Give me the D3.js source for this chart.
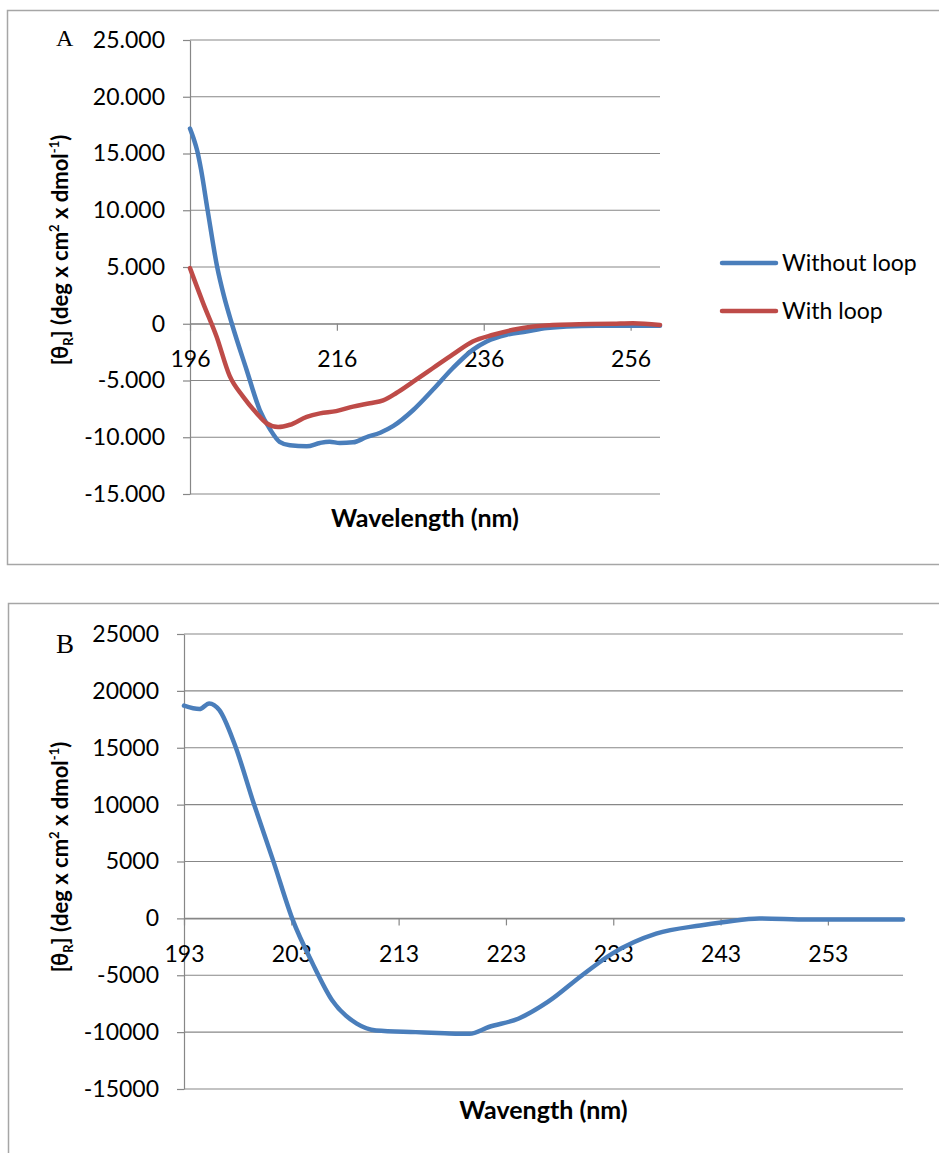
<!DOCTYPE html>
<html>
<head>
<meta charset="utf-8">
<script src="https://cdn.jsdelivr.net/npm/d3@7"></script>
<style>
  html, body { margin: 0; padding: 0; background: #fff; }
</style>
</head>
<body>
<div id="chart"></div>
<script>
// Panel A: sin bucle / con bucle (nm, valor)
const nmWithout = [196, 196.5, 197, 197.5, 198.4, 199.7, 200.6, 201.7, 203.7, 205.5, 206.9, 208.2, 209.6, 211.9, 213.7, 215, 216.4, 218.2, 220, 221.9, 223.7, 226.4, 229.1, 231.8, 234.5, 236.4, 239.1, 241.8, 244.6, 247.3, 251.4, 255.9, 260];
const valWithout = [17200, 16300, 15200, 13600, 10000, 5000, 2500, 0, -4050, -7600, -9300, -10400, -10700, -10800, -10500, -10400, -10500, -10450, -10000, -9600, -9000, -7600, -5800, -3900, -2300, -1560, -970, -680, -380, -240, -180, -180, -180];

const nmWith = [196, 197.8, 199.6, 201.4, 203.2, 205.1, 206.4, 208, 209.6, 211.9, 213.7, 215.9, 218.2, 220.5, 222.3, 224.1, 226.4, 229.1, 231.8, 234.5, 237.3, 240, 242.7, 245.4, 249, 253.6, 256.3, 260];
const valWith = [4900, 1800, -1100, -4600, -6400, -7900, -8750, -9100, -8900, -8200, -7900, -7700, -7300, -7000, -6750, -6100, -5100, -3900, -2700, -1560, -970, -530, -240, -100, -50, 0, 50, -100];

// Panel B
const nmB = [193, 194.45, 195.35, 196.3, 197.7, 199.5, 201.3, 203.15, 205, 206.8, 209.1, 210.9, 214.6, 217.3, 219.6, 221.4, 224.2, 226.9, 230.1, 232.9, 237, 241.1, 243.4, 246.6, 251.2, 255.8, 260];
const valB = [18700, 18400, 18900, 18300, 15350, 10100, 5100, -180, -4000, -7200, -9250, -9850, -10000, -10100, -10150, -9550, -8800, -7350, -5000, -3100, -1350, -620, -320, 0, -90, -90, -90];

const yTicks = [-15000, -10000, -5000, 0, 5000, 10000, 15000, 20000, 25000];
const xTicksA = [196, 216, 236, 256];
const xTicksB = [193, 203, 213, 223, 233, 243, 253];

const blue = "#4a7ebb";
const red = "#be4b48";
const gridColor = "#878787";
const font = "Lato, 'Open Sans', sans-serif";

const width = 939;
const height = 1153;

var svg = d3.select("#chart").append("svg")
    .attr("width", width)
    .attr("height", height)
    .attr("viewBox", [0, 0, width, height])
    .style("background", "#fff");

// marcos de los dos paneles
svg.append("rect")
    .attr("x", 7.5).attr("y", 10.5)
    .attr("width", 950).attr("height", 554)
    .attr("fill", "none").attr("stroke", "#a6a6a6").attr("stroke-width", 1.5);

svg.append("rect")
    .attr("x", 8.5).attr("y", 603.5)
    .attr("width", 950).attr("height", 600)
    .attr("fill", "none").attr("stroke", "#a6a6a6").attr("stroke-width", 1.5);

const loc = d3.formatLocale({ decimal: ",", thousands: ".", grouping: [3], currency: ["", ""], minus: "-" });
const dotted = loc.format(",");
const plain = loc.format("d");

function drawPanel(p) {
    const x = d3.scaleLinear(p.xDomain, [p.left, p.right]);
    const y = d3.scaleLinear([-15000, 25000], [p.bottom, p.top]);
    const g = svg.append("g");

    // rejilla horizontal
    g.append("g")
        .selectAll("line")
        .data(yTicks)
        .join("line")
        .attr("x1", p.left).attr("x2", p.right)
        .attr("y1", d => y(d)).attr("y2", d => y(d))
        .attr("stroke", gridColor).attr("stroke-width", 1.2);

    // eje Y
    g.append("g")
        .attr("transform", `translate(${p.left},0)`)
        .call(d3.axisLeft(y).tickValues(yTicks).tickSize(7).tickSizeOuter(0).tickPadding(18).tickFormat(p.yFormat))
        .call(a => a.selectAll("line, path").attr("stroke", gridColor).attr("stroke-width", 1.2))
        .call(a => a.selectAll("text").attr("font-family", font).attr("font-size", 23).attr("fill", "#000"));

    // eje X en el cero
    g.append("g")
        .attr("transform", `translate(0,${y(0)})`)
        .call(d3.axisBottom(x).tickValues(p.xTicks).tickSize(7).tickSizeOuter(0).tickPadding(20).tickFormat(d3.format("d")))
        .call(a => a.selectAll("line, path").attr("stroke", gridColor).attr("stroke-width", 1.2))
        .call(a => a.selectAll("text").attr("font-family", font).attr("font-size", 23).attr("fill", "#000"));

    const line = d3.line()
        .x(d => x(d[0]))
        .y(d => y(d[1]))
        .curve(d3.curveMonotoneX);

    p.series.forEach(s => {
        g.append("path")
            .attr("fill", "none")
            .attr("stroke", s.color)
            .attr("stroke-width", 4.5)
            .attr("stroke-linejoin", "round")
            .attr("stroke-linecap", "round")
            .attr("d", line(d3.zip(s.nm, s.val)));
    });

    // título eje X
    g.append("text")
        .attr("x", (p.left + p.right) / 2)
        .attr("y", p.xTitleY)
        .attr("text-anchor", "middle")
        .attr("font-family", font).attr("font-weight", "bold").attr("font-size", 25)
        .text(p.xTitle);

    // título eje Y con subíndice y superíndices
    const yt = g.append("text")
        .attr("transform", `translate(68,${p.yTitleY}) rotate(-90)`)
        .attr("text-anchor", "middle")
        .attr("font-family", font).attr("font-weight", "bold").attr("font-size", 22);
    yt.append("tspan").text("[θ");
    yt.append("tspan").attr("font-size", 13).attr("dy", 5).text("R");
    yt.append("tspan").attr("dy", -5).text("] (deg x cm");
    yt.append("tspan").attr("font-size", 13).attr("dy", -9).text("2");
    yt.append("tspan").attr("dy", 9).text(" x dmol");
    yt.append("tspan").attr("font-size", 13).attr("dy", -9).text("-1");
    yt.append("tspan").attr("dy", 9).text(")");

    // letra del panel
    g.append("text")
        .attr("x", p.letterX).attr("y", p.letterY)
        .attr("font-family", "'Liberation Serif', 'DejaVu Serif', serif")
        .attr("font-size", p.letterSize)
        .text(p.letter);
}

drawPanel({
    left: 190, right: 660, top: 40, bottom: 494,
    xDomain: [196, 260], xTicks: xTicksA,
    yFormat: d => d === 0 ? "0" : dotted(d),
    series: [
        { nm: nmWithout, val: valWithout, color: blue },
        { nm: nmWith, val: valWith, color: red }
    ],
    xTitle: "Wavelength (nm)", xTitleY: 527,
    yTitleY: 250,
    letter: "A", letterX: 56, letterY: 46, letterSize: 24
});

drawPanel({
    left: 184, right: 903, top: 634, bottom: 1089,
    xDomain: [193, 260], xTicks: xTicksB,
    yFormat: plain,
    series: [
        { nm: nmB, val: valB, color: blue }
    ],
    xTitle: "Wavength (nm)", xTitleY: 1119,
    yTitleY: 857,
    letter: "B", letterX: 56, letterY: 653, letterSize: 27
});

// leyenda del panel A
const legend = [
    { label: "Without loop", color: blue, y: 263 },
    { label: "With loop", color: red, y: 311 }
];
const lg = svg.append("g").selectAll("g").data(legend).join("g");
lg.append("line")
    .attr("x1", 722).attr("x2", 776)
    .attr("y1", d => d.y).attr("y2", d => d.y)
    .attr("stroke", d => d.color).attr("stroke-width", 4.5).attr("stroke-linecap", "round");
lg.append("text")
    .attr("x", 782).attr("y", d => d.y + 8)
    .attr("font-family", font).attr("font-size", 23)
    .text(d => d.label);
</script>
</body>
</html>
